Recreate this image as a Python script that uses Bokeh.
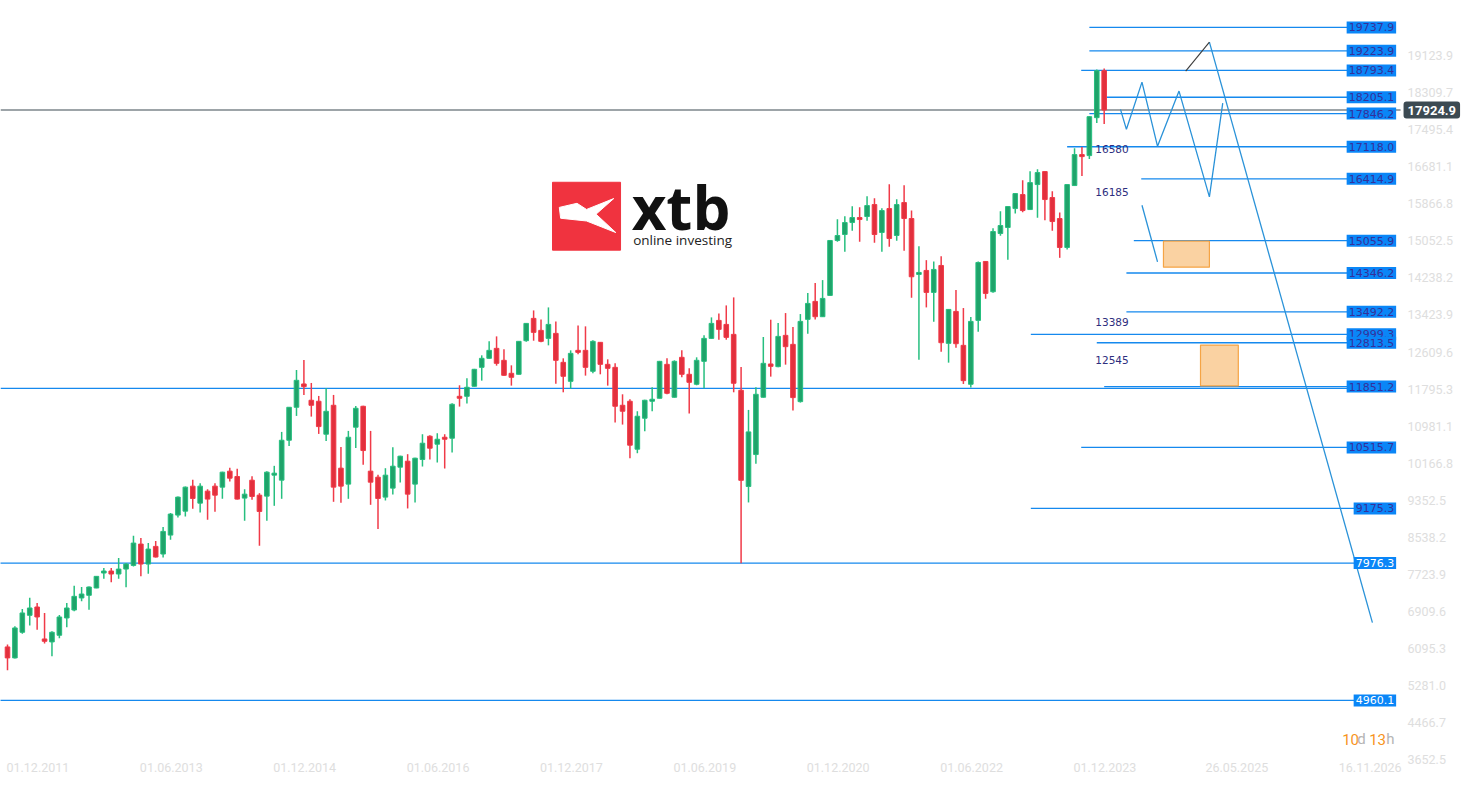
from bokeh.plotting import figure
from bokeh.models import Range1d, FixedTicker, Label
from bokeh.core.properties import value
from bokeh.embed import file_html
from bokeh.resources import INLINE

# ---------------- data: monthly candles, index 0 = Dec 2011 ----------------
opens = [6134, 5893, 6456, 6828, 7011, 6309, 6244, 6390, 6770, 6945,
         7209, 7267, 7428, 7757, 7801, 7735, 7844, 7925, 8393, 7954,
         8342, 8174, 8590, 9029, 9116, 9665, 9292, 9555, 9665, 9643,
         9994, 9877, 9402, 9796, 9467, 9445, 9906, 9796, 10673, 11397,
         11909, 11551, 11529, 10805, 11441, 10060, 9709, 10959, 11419, 9994,
         9862, 9424, 9621, 10081, 10213, 9709, 10250, 10761, 10586, 10739,
         10717, 11638, 11638, 11858, 12274, 12472, 12691, 12428, 12143, 12121,
         12859, 13349, 13086, 12910, 13020, 12384, 11967, 12647, 12647, 12187,
         12823, 12340, 12274, 11441, 11529, 10476, 11156, 11529, 11595, 12340,
         11617, 12494, 12121, 11902, 12406, 12910, 13305, 13217, 12998, 11770,
         9657, 10359, 11617, 12348, 12289, 12976, 12779, 11521, 13327, 13722,
         13386, 13853, 15060, 15191, 15454, 15564, 15586, 15849, 15235, 15761,
         15169, 15893, 15542, 14314, 14402, 13919, 14511, 12801, 13502, 12757,
         11902, 13305, 14599, 13934, 15213, 15345, 15761, 16068, 15739, 16288,
         16573, 16003, 15542, 14906, 16266, 16946, 16924, 17757, 18788]
highs = [6185, 6587, 6967, 7216, 7099, 6880, 6478, 6836, 7099, 7479,
         7450, 7460, 7690, 7866, 7866, 8086, 7976, 8575, 8524, 8415,
         8459, 8766, 9073, 9438, 9657, 9804, 9731, 9599, 9731, 9980,
         10067, 10045, 9599, 9884, 9511, 9994, 10111, 10856, 11400, 12216,
         12435, 11931, 11646, 11814, 11668, 10527, 10878, 11426, 11430, 10878,
         9913, 10059, 10520, 10330, 10367, 10290, 10805, 10783, 10827, 10805,
         11485, 11880, 12033, 12240, 12538, 12845, 12954, 12669, 12318, 12850,
         13245, 13524, 13327, 13590, 13283, 12472, 12647, 13195, 13174, 12867,
         12830, 12450, 12362, 11682, 11573, 11310, 11560, 11836, 12415, 12472,
         12428, 12647, 12252, 12494, 12976, 13371, 13459, 13634, 13810, 12280,
         11339, 11836, 12940, 13320, 13247, 13466, 13159, 13444, 13905, 14124,
         14190, 15070, 15527, 15593, 15812, 15790, 16032, 15988, 15769, 16295,
         15966, 16273, 15717, 14935, 14628, 14599, 14716, 13555, 13970, 13576,
         13378, 14599, 14605, 15330, 15703, 15812, 16100, 16383, 16580, 16624,
         16580, 16141, 15674, 16295, 17084, 17114, 17790, 18817, 18839]
lows = [5622, 5880, 6426, 6602, 6514, 6207, 5929, 6324, 6565, 6916,
        7135, 6953, 7420, 7632, 7552, 7632, 7442, 7903, 7684, 7742,
        8100, 8100, 8488, 8978, 9000, 9168, 9087, 8926, 9102, 9387,
        9767, 9370, 8905, 9365, 8356, 8905, 9233, 9387, 10549, 11207,
        11668, 11192, 10812, 10659, 9321, 9299, 9387, 10505, 10133, 9255,
        8722, 9350, 9482, 9745, 9175, 9307, 10096, 10250, 10184, 10052,
        10403, 11412, 11478, 11850, 11982, 12465, 12311, 12090, 11872, 12115,
        12837, 12859, 12823, 12757, 11916, 11726, 11807, 12560, 12092, 12143,
        12121, 11872, 11061, 11017, 10279, 10388, 10871, 11310, 11590, 11682,
        11610, 12055, 11258, 11880, 11814, 12900, 12881, 12881, 11726, 7969,
        9307, 10155, 11610, 12070, 12275, 12333, 11324, 11500, 13013, 13327,
        13380, 13840, 15030, 14811, 15272, 15030, 15491, 15008, 14811, 14921,
        15052, 14833, 13802, 12443, 13590, 13276, 12618, 12377, 12706, 11909,
        11829, 13057, 13780, 13912, 15162, 14636, 15652, 15681, 15730, 15557,
        15505, 15272, 14679, 14862, 16260, 16478, 16850, 17640, 17618]
closes = [5893, 6551, 6880, 6989, 6792, 6258, 6456, 6792, 6989, 7245,
          7296, 7450, 7684, 7801, 7735, 7844, 7954, 8415, 7954, 8283,
          8108, 8671, 9051, 9424, 9643, 9394, 9665, 9380, 9467, 9972,
          9840, 9380, 9489, 9438, 9109, 9972, 9950, 10673, 11397, 11989,
          11850, 11441, 10973, 11309, 9643, 9665, 10739, 11375, 10447, 9752,
          9394, 9906, 10103, 10323, 9489, 10279, 10608, 10498, 10695, 10695,
          11463, 11595, 11836, 12231, 12472, 12647, 12362, 12099, 12055, 12845,
          13239, 13042, 12845, 13217, 12428, 12077, 12581, 12603, 12274, 12845,
          12340, 12252, 11419, 11310, 10564, 11200, 11551, 11573, 12406, 11704,
          12406, 12121, 11945, 12428, 12910, 13239, 13108, 12932, 11924, 9793,
          10856, 11682, 12362, 12296, 12954, 12728, 11609, 13283, 13678, 13386,
          13788, 15060, 15169, 15454, 15564, 15520, 15827, 15191, 15717, 15103,
          15849, 15542, 14263, 14358, 13919, 14424, 12815, 13546, 12793, 11982,
          13283, 14577, 13897, 15257, 15388, 15805, 16090, 15717, 16331, 16551,
          15959, 15476, 14906, 16288, 16946, 16902, 17779, 18788, 17924.9]

current_price = 17924.9

# x-axis: months after Dec 2011 and their labels
tick_months = [0, 18, 36, 54, 72, 90, 108, 126, 144, 161.8, 179.8]
tick_labels = ["01.12.2011", "01.06.2013", "01.12.2014", "01.06.2016", "01.12.2017",
               "01.06.2019", "01.12.2020", "01.06.2022", "01.12.2023", "26.05.2025",
               "16.11.2026"]
# y-axis ticks
y_ticks = [3652.5, 4466.7, 5281.0, 6095.3, 6909.6, 7723.9, 8538.2, 9352.5, 10166.8,
           10981.1, 11795.3, 12609.6, 13423.9, 14238.2, 15052.5, 15866.8, 16681.1,
           17495.4, 18309.7, 19123.9]

# horizontal levels (value, start month)
level_values = [19737.9, 19223.9, 18793.4, 18205.1, 17846.2, 17118.0, 16414.9, 15055.9,
                14346.2, 13492.2, 12999.3, 12813.5, 11851.2, 10515.7, 9175.3, 7976.3, 4960.1]
level_start = [146.0, 146.0, 144.9, 148.0, 146.0, 143.0, 153.0, 152.0,
               151.0, 151.0, 138.1, 147.0, 148.0, 144.9, 138.1, -1.0, -1.0]
support_level = 11810

# drawn scenario paths
zig_m = [150.2, 151.0, 153.1, 155.2, 158.1, 162.2, 164.0]
zig_v = [17940, 17501, 18538, 17128, 18341, 16016, 18078]
black_m = [159.0, 162.2]
black_v = [18779, 19415]
drop_m = [162.2, 184.2]
drop_v = [19415, 6667]
short_m = [153.1, 155.2]
short_v = [15834, 14591]
zone_left = [156.0, 161.0]
zone_right = [162.2, 166.1]
zone_top = [15045, 12764]
zone_bottom = [14474, 11865]
note_texts = ["16580", "16185", "13389", "12545"]
note_m = [146.8, 146.8, 146.8, 146.8]
note_v = [17062, 16119, 13268, 12435]
countdown_parts = ["10", "d", "13", "h"]

# ---------------- figure ----------------
W, H = 1465, 785
X0 = -0.945
MONTH_PX = 7.41
X1 = X0 + W / MONTH_PX          # frame spans the whole width; axis labels sit inside it
PRICE_EDGE = 188.0              # right edge of the drawing area (month units)
p = figure(width=W, height=H, output_backend="svg", toolbar_location=None,
           x_range=Range1d(X0, X1), y_range=Range1d(3640, 20330),
           y_axis_location="right", min_border_left=0, min_border_top=0,
           min_border_right=0, min_border_bottom=25)
p.outline_line_color = None
p.grid.visible = False
p.background_fill_color = "white"

for ax in (p.xaxis[0], p.yaxis[0]):
    ax.axis_line_color = None
    ax.major_tick_line_color = None
    ax.minor_tick_line_color = None
    ax.major_label_text_color = "#dedede"
    ax.major_label_text_font = "Roboto"
    ax.major_label_text_font_size = "12.5px"

label_shift = 4.1
p.xaxis[0].ticker = FixedTicker(ticks=[t + label_shift for t in tick_months])
p.xaxis[0].major_label_overrides = {t + label_shift: s for t, s in zip(tick_months, tick_labels)}
p.xaxis[0].major_label_standoff = -4
p.yaxis[0].ticker = FixedTicker(ticks=y_ticks)
p.yaxis[0].major_label_overrides = {v: f"{v:.1f}" for v in y_ticks}
p.yaxis[0].major_label_standoff = -64

# ---------------- logo ----------------
logo_x0, logo_y0, logo_w, logo_h = 73.55, 14847, 9.18, 1491
p.quad(left=[logo_x0], right=[logo_x0 + logo_w], bottom=[logo_y0], top=[logo_y0 + logo_h],
       fill_color="#f0333f", line_color="#f0333f")
unit_x = [0.10, 0.36, 0.50, 0.90, 0.64, 0.93, 0.50, 0.12]
unit_y = [0.63, 0.69, 0.60, 0.76, 0.53, 0.26, 0.43, 0.47]
p.patch([logo_x0 + u * logo_w for u in unit_x], [logo_y0 + u * logo_h for u in unit_y],
        fill_color="white", line_color="white")
p.text(x=[logo_x0 + logo_w + 1.5], y=[15790], text=["xtb"], text_font=value("Open Sans"),
       text_font_style="bold", text_font_size="60px", text_color="#111111",
       text_baseline="alphabetic")
p.text(x=[logo_x0 + logo_w + 1.7], y=[15067], text=["online investing"],
       text_font=value("Open Sans"), text_font_size="13.5px", text_color="#222222",
       text_baseline="alphabetic")

# ---------------- levels ----------------
line_end = 186.0
blue = "#1589ee"
p.segment(x0=level_start, y0=level_values, x1=[line_end] * len(level_values), y1=level_values,
          line_color=blue, line_width=1.3)
p.segment(x0=[X0], y0=[support_level], x1=[line_end], y1=[support_level],
          line_color=blue, line_width=1.3)
p.segment(x0=[X0], y0=[current_price], x1=[PRICE_EDGE], y1=[current_price],
          line_color="#3c4a52", line_width=1.2)

# ---------------- candles ----------------
months = list(range(len(opens)))
up = [c >= o for o, c in zip(opens, closes)]
wick_col = ["#26bf7f" if u else "#f03a48" for u in up]
body_fill = ["#1fa36a" if u else "#e2303d" for u in up]
p.segment(x0=months, y0=lows, x1=months, y1=highs, line_color=wick_col, line_width=1.5)
p.vbar(x=months, width=0.62, top=[max(o, c) for o, c in zip(opens, closes)],
       bottom=[min(o, c) for o, c in zip(opens, closes)],
       fill_color=body_fill, line_color=wick_col, line_width=1)

# ---------------- scenario drawings ----------------
p.quad(left=zone_left, right=zone_right, top=zone_top, bottom=zone_bottom,
       fill_color="#fad2a2", line_color="#f5a445", line_width=1.2)
p.line(zig_m, zig_v, line_color="#2a92d8", line_width=1.3)
p.line(short_m, short_v, line_color="#2a92d8", line_width=1.3)
p.line(drop_m, drop_v, line_color="#2a92d8", line_width=1.3)
p.line(black_m, black_v, line_color="#3a3a3a", line_width=1.1)
p.text(x=note_m, y=note_v, text=note_texts, text_font=value("DejaVu Sans"),
       text_font_size="10.5px", text_color="#2e2e7e", text_baseline="middle")

# ---------------- level tags ----------------
white_tags = {7976.3, 4960.1}
tag_col = ["#ffffff" if v in white_tags else "#35309a" for v in level_values]
p.text(x=[187.4] * len(level_values), y=level_values, text=[f"{v:.1f}" for v in level_values],
       text_font=value("DejaVu Sans"), text_font_size="11px", text_color=tag_col,
       text_align="right", text_baseline="middle", background_fill_color="#0a86f7",
       padding=2)

# countdown
offs = [-54, -39, -27, -10]
cols = ["#f7941d", "#b5b5b5", "#f7941d", "#b5b5b5"]
for t, o, c in zip(countdown_parts, offs, cols):
    p.text(x=[187.4], y=[4110], text=[t], x_offset=o, text_font=value("Roboto"),
           text_font_size="15px", text_color=c, text_baseline="middle", text_align="left")

# current price tag
p.add_layout(Label(x=PRICE_EDGE + 0.4, y=current_price, text=f"{current_price:.1f}",
                   text_align="left", text_baseline="middle", text_color="white",
                   text_font="Roboto", text_font_style="bold", text_font_size="13px",
                   background_fill_color="#3c4a52", padding=4, border_radius=3))

open("out.html", "w").write(file_html(p, INLINE))
